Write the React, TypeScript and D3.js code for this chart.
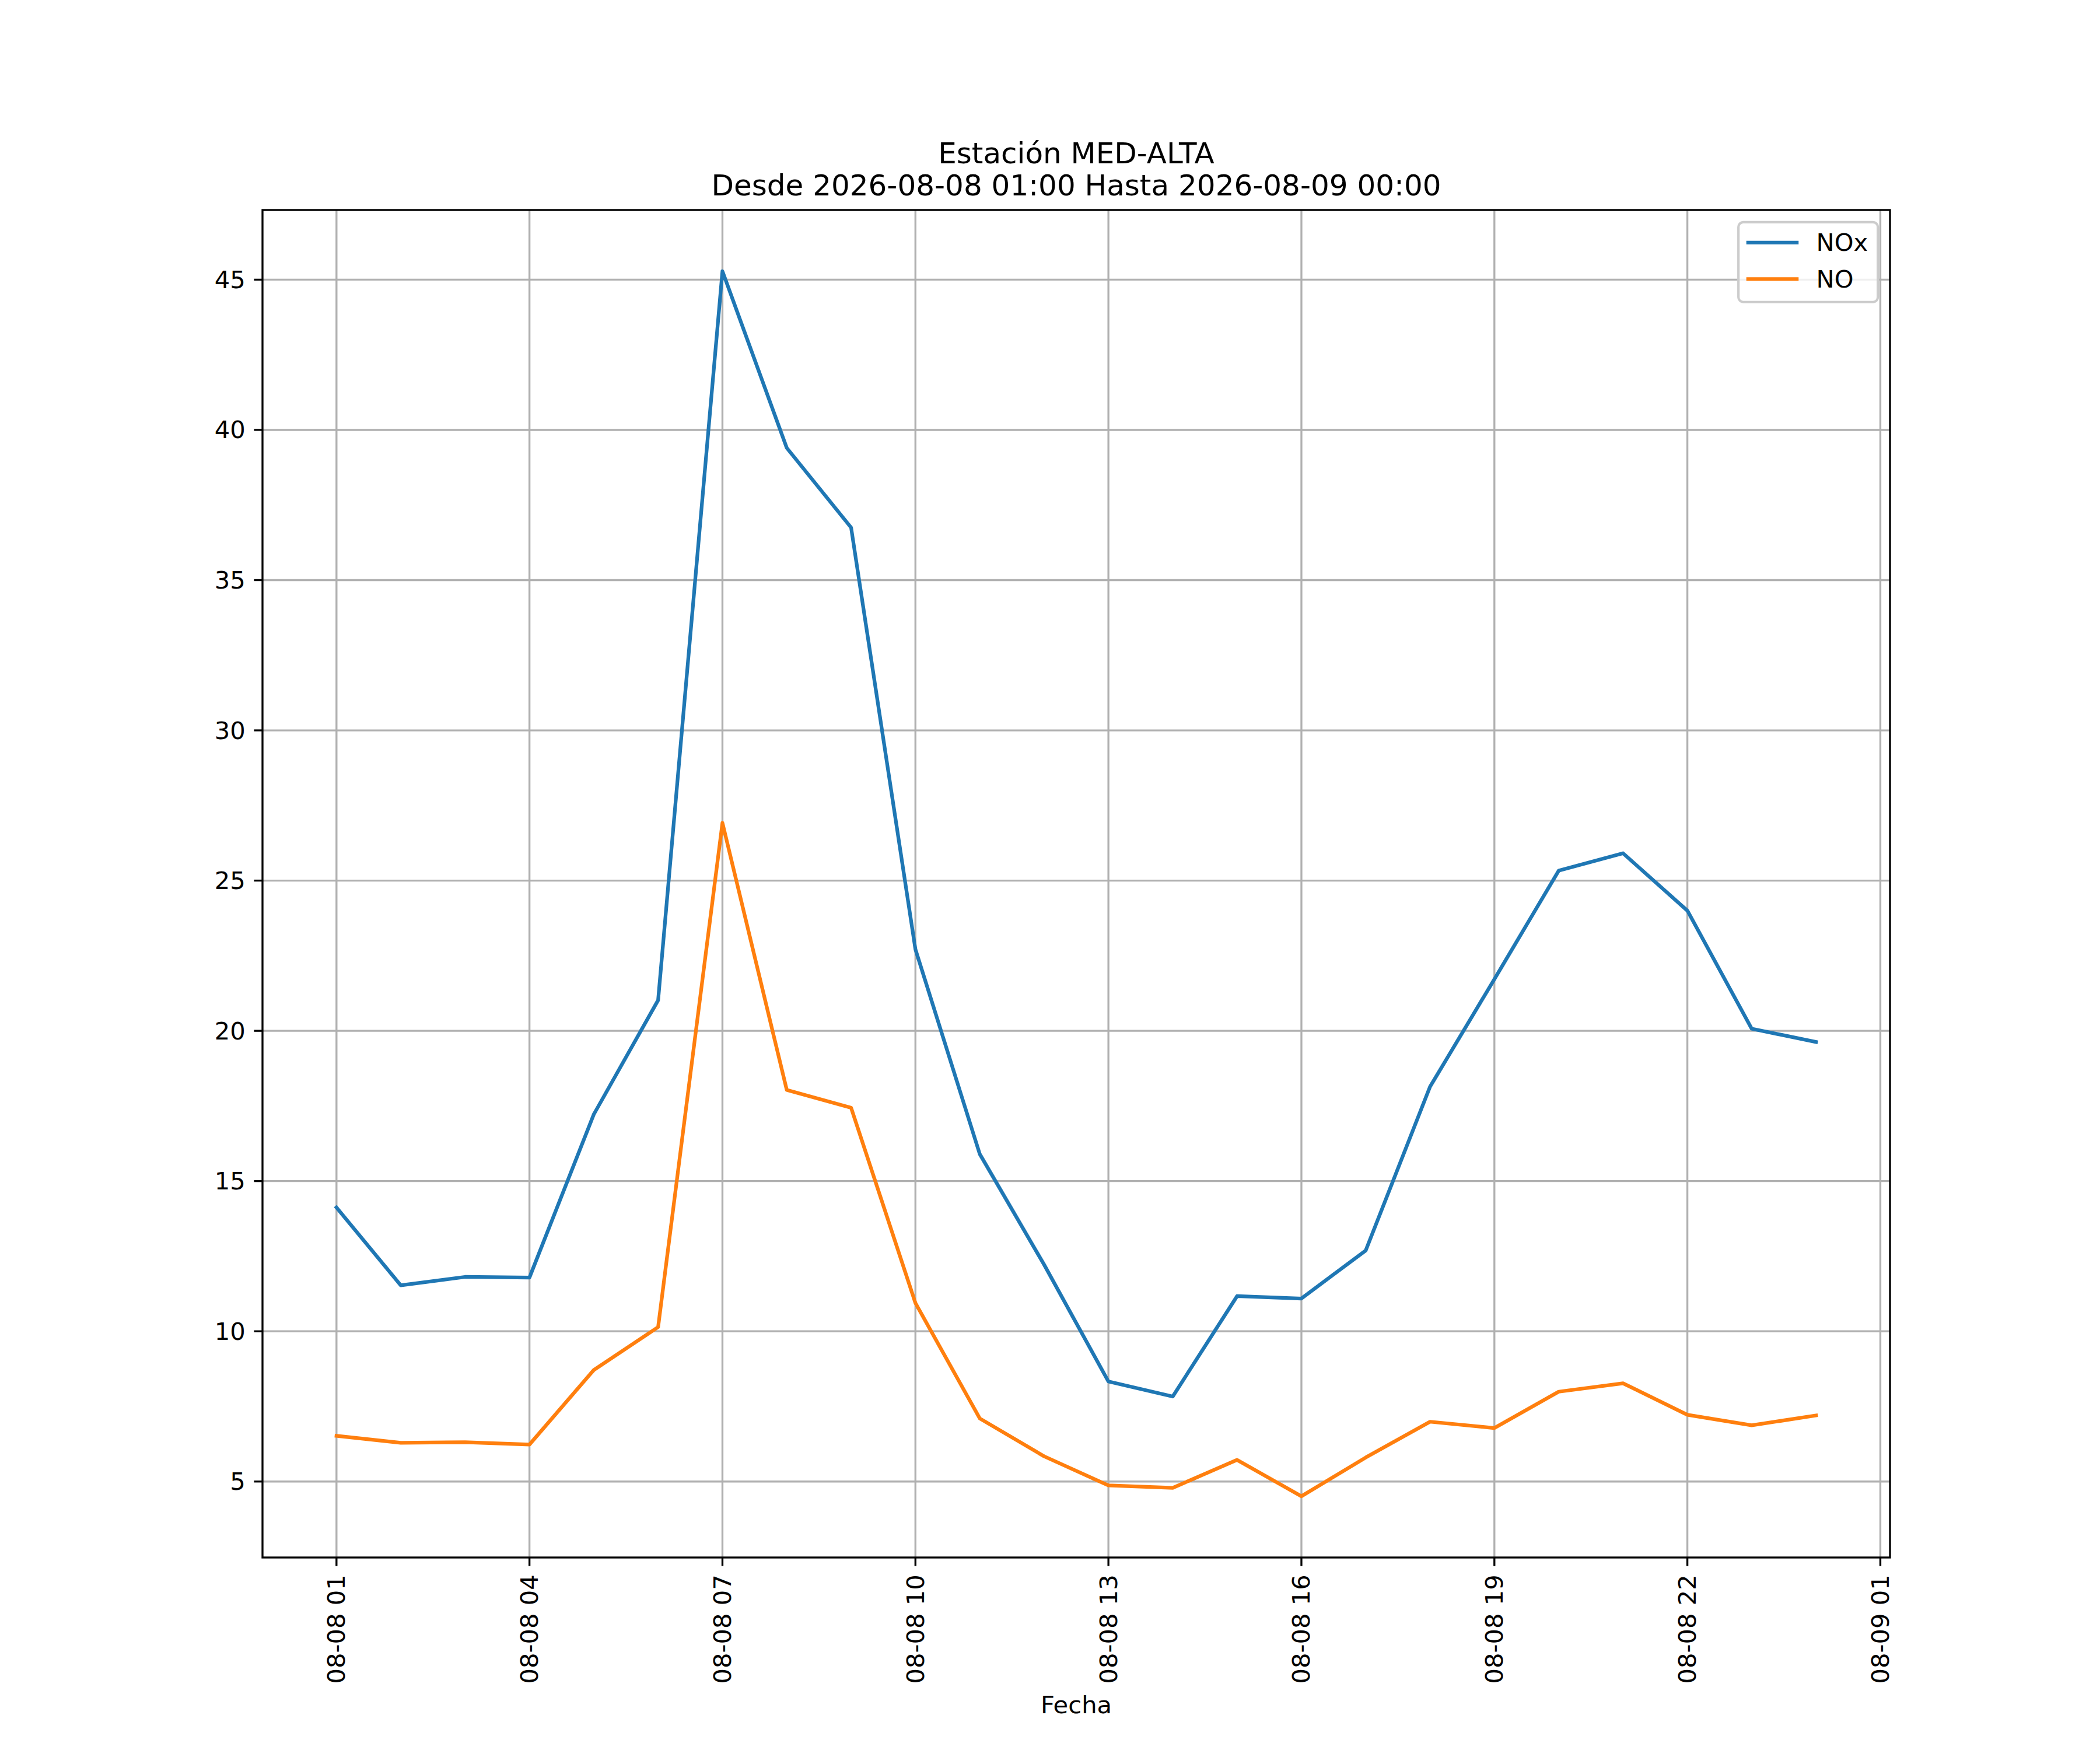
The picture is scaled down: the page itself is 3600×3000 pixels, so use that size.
import React from "react";
import * as d3 from "d3";

// ---- Data ----
const times: string[] = [
  "2026-08-08 01:00", "2026-08-08 02:00", "2026-08-08 03:00", "2026-08-08 04:00",
  "2026-08-08 05:00", "2026-08-08 06:00", "2026-08-08 07:00", "2026-08-08 08:00",
  "2026-08-08 09:00", "2026-08-08 10:00", "2026-08-08 11:00", "2026-08-08 12:00",
  "2026-08-08 13:00", "2026-08-08 14:00", "2026-08-08 15:00", "2026-08-08 16:00",
  "2026-08-08 17:00", "2026-08-08 18:00", "2026-08-08 19:00", "2026-08-08 20:00",
  "2026-08-08 21:00", "2026-08-08 22:00", "2026-08-08 23:00", "2026-08-09 00:00",
];
const noxValues: number[] = [
  14.12, 11.53, 11.81, 11.79, 17.22, 21.02, 45.28, 39.4, 36.75, 22.71, 15.9, 12.22,
  8.33, 7.83, 11.17, 11.09, 12.69, 18.14, 21.72, 25.33, 25.91, 24.0, 20.07, 19.63,
];
const noValues: number[] = [
  6.52, 6.29, 6.31, 6.23, 8.71, 10.14, 26.92, 18.03, 17.44, 10.94, 7.1, 5.84,
  4.87, 4.79, 5.72, 4.51, 5.8, 6.99, 6.78, 7.99, 8.27, 7.22, 6.87, 7.2,
];
const seriesNames: string[] = ["NOx", "NO"];
const seriesColors: string[] = ["#1f77b4", "#ff7f0e"];
const xTickTimes: string[] = [
  "2026-08-08 01:00", "2026-08-08 04:00", "2026-08-08 07:00", "2026-08-08 10:00",
  "2026-08-08 13:00", "2026-08-08 16:00", "2026-08-08 19:00", "2026-08-08 22:00",
  "2026-08-09 01:00",
];
const yTicks: number[] = [5, 10, 15, 20, 25, 30, 35, 40, 45];
const titleLines: string[] = [
  "Estación MED-ALTA",
  "Desde 2026-08-08 01:00 Hasta 2026-08-09 00:00",
];
const xLabel = "Fecha";

// ---- Layout (300 dpi matplotlib-like) ----
const W = 3600;
const H = 3000;
const PT = 300 / 72;
const left = 0.125 * W;
const right = 0.9 * W;
const top = (1 - 0.88) * H;
const bottom = (1 - 0.11) * H;
const FONT = "'DejaVu Sans', sans-serif";
const fs = 10 * PT;
const titleFs = 12 * PT;
const tickLen = 3.5 * PT;
const tickPad = 3.5 * PT;

const parse = d3.timeParse("%Y-%m-%d %H:%M");
const fmt = d3.timeFormat("%m-%d %H");

export default function App() {
  const dates = times.map((t) => parse(t) as Date);
  const t0 = dates[0].getTime();
  const t1 = dates[dates.length - 1].getTime();
  const xm = (t1 - t0) * 0.05;
  const x = d3
    .scaleTime()
    .domain([new Date(t0 - xm), new Date(t1 + xm)])
    .range([left, right]);

  const allVals = [...noxValues, ...noValues];
  const vmin = d3.min(allVals) as number;
  const vmax = d3.max(allVals) as number;
  const ym = (vmax - vmin) * 0.05;
  const y = d3.scaleLinear().domain([vmin - ym, vmax + ym]).range([bottom, top]);

  const series = [noxValues, noValues];
  const line = d3
    .line<number>()
    .x((_, i) => x(dates[i]))
    .y((d) => y(d));

  const xTicks = xTickTimes.map((t) => parse(t) as Date);
  const cx = (left + right) / 2;

  // legend geometry
  const bap = 0.5 * fs;
  const bp = 0.4 * fs;
  const handleLen = 2.0 * fs;
  const htp = 0.8 * fs;
  const legW = 239;
  const legH = 137;
  const legX = right - bap - legW;
  const legY = top + bap;
  const rowY = [legY + 35, legY + 97.5];

  return (
    <svg
      width={W}
      height={H}
      viewBox={`0 0 ${W} ${H}`}
      style={{ position: "absolute", left: 0, top: 0, background: "#fff" }}
      fontFamily={FONT}
    >
      <rect x={0} y={0} width={W} height={H} fill="#fff" />
      <defs>
        <clipPath id="plotclip">
          <rect x={left} y={top} width={right - left} height={bottom - top} />
        </clipPath>
      </defs>

      {/* grid */}
      <g stroke="#b0b0b0" strokeWidth={0.8 * PT}>
        {xTicks.map((d, i) => (
          <line key={"gx" + i} x1={x(d)} x2={x(d)} y1={top} y2={bottom} />
        ))}
        {yTicks.map((v) => (
          <line key={"gy" + v} x1={left} x2={right} y1={y(v)} y2={y(v)} />
        ))}
      </g>

      {/* lines */}
      <g clipPath="url(#plotclip)">
        {series.map((s, i) => (
          <path
            key={seriesNames[i]}
            d={line(s) as string}
            fill="none"
            stroke={seriesColors[i]}
            strokeWidth={1.5 * PT}
            strokeLinejoin="round"
            strokeLinecap="square"
          />
        ))}
      </g>

      {/* spines */}
      <rect
        x={left}
        y={top}
        width={right - left}
        height={bottom - top}
        fill="none"
        stroke="#000"
        strokeWidth={0.8 * PT}
      />

      {/* x ticks */}
      <g>
        {xTicks.map((d, i) => (
          <g key={"xt" + i}>
            <line
              x1={x(d)}
              x2={x(d)}
              y1={bottom}
              y2={bottom + tickLen}
              stroke="#000"
              strokeWidth={0.8 * PT}
            />
            <text
              transform={`translate(${x(d)},${bottom + tickLen + tickPad}) rotate(-90)`}
              textAnchor="end"
              dominantBaseline="central"
              fontSize={fs}
              fill="#000"
            >
              {fmt(d)}
            </text>
          </g>
        ))}
      </g>

      {/* y ticks */}
      <g>
        {yTicks.map((v) => (
          <g key={"yt" + v}>
            <line
              x1={left - tickLen}
              x2={left}
              y1={y(v)}
              y2={y(v)}
              stroke="#000"
              strokeWidth={0.8 * PT}
            />
            <text
              x={left - tickLen - tickPad}
              y={y(v)}
              textAnchor="end"
              dominantBaseline="central"
              fontSize={fs}
              fill="#000"
            >
              {v}
            </text>
          </g>
        ))}
      </g>

      {/* title */}
      <text x={cx} y={280} textAnchor="middle" fontSize={titleFs} fill="#000">
        {titleLines[0]}
      </text>
      <text x={cx} y={335} textAnchor="middle" fontSize={titleFs} fill="#000">
        {titleLines[1]}
      </text>

      {/* x label */}
      <text x={cx} y={2937} textAnchor="middle" fontSize={fs} fill="#000">
        {xLabel}
      </text>

      {/* legend */}
      <rect
        x={legX}
        y={legY}
        width={legW}
        height={legH}
        rx={0.2 * fs}
        ry={0.2 * fs}
        fill="#fff"
        fillOpacity={0.8}
        stroke="#cccccc"
        strokeWidth={1.0 * PT}
      />
      {seriesNames.map((n, i) => (
        <g key={"leg" + n}>
          <line
            x1={legX + bp}
            x2={legX + bp + handleLen}
            y1={rowY[i]}
            y2={rowY[i]}
            stroke={seriesColors[i]}
            strokeWidth={1.5 * PT}
            strokeLinecap="square"
          />
          <text
            x={legX + bp + handleLen + htp}
            y={rowY[i] + 14.5}
            fontSize={fs}
            fill="#000"
          >
            {n}
          </text>
        </g>
      ))}
    </svg>
  );
}
